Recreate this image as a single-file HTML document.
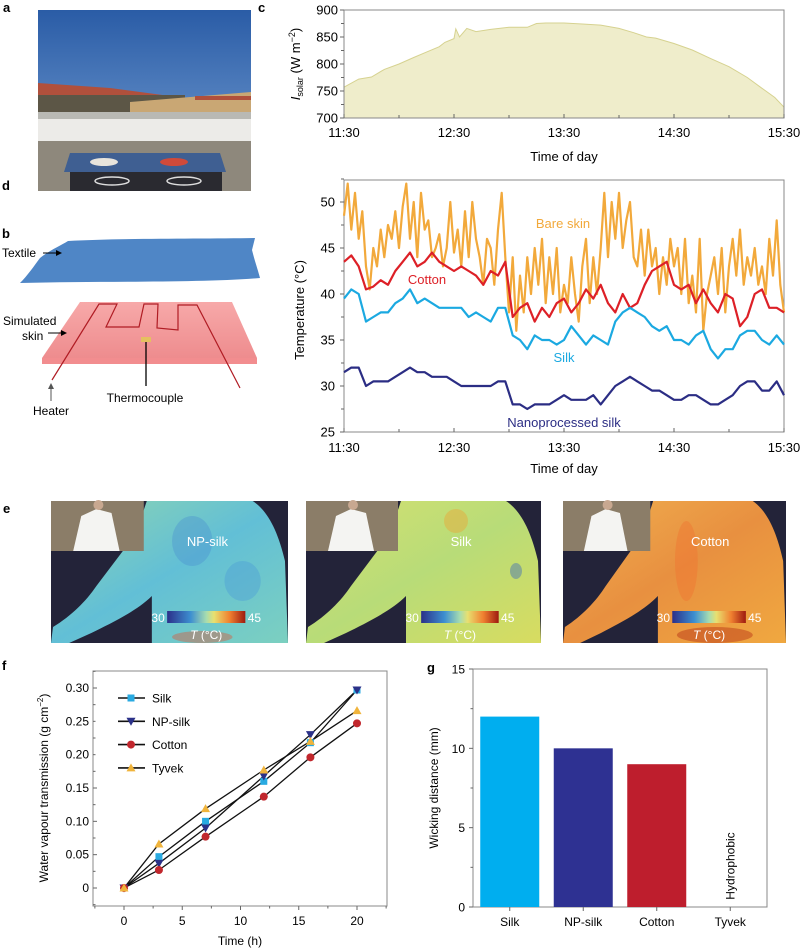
<!DOCTYPE html>
<html><head><meta charset="utf-8"><style>
html,body{margin:0;padding:0;background:#fff;}
svg{display:block;font-family:"Liberation Sans",Arial,sans-serif;}
</style></head><body>
<svg id="fig" width="800" height="949" viewBox="0 0 800 949" xmlns="http://www.w3.org/2000/svg">
<defs>
<linearGradient id="sky" x1="0" y1="0" x2="0" y2="1"><stop offset="0" stop-color="#2a5ca6"/><stop offset="1" stop-color="#7aa3d6"/></linearGradient>
<linearGradient id="skin" x1="0" y1="0" x2="0" y2="1"><stop offset="0" stop-color="#f7a9a9"/><stop offset="1" stop-color="#ee8c8e"/></linearGradient>
<linearGradient id="cbar" x1="0" y1="0" x2="1" y2="0"><stop offset="0" stop-color="#2b2f8a"/><stop offset="0.3" stop-color="#3d8fd0"/><stop offset="0.5" stop-color="#a6dcb0"/><stop offset="0.6" stop-color="#e8e070"/><stop offset="0.8" stop-color="#f08030"/><stop offset="1" stop-color="#9e1a10"/></linearGradient>
<linearGradient id="g1" x1="0" y1="0" x2="1" y2="1"><stop offset="0" stop-color="#8fd6b0"/><stop offset="0.5" stop-color="#62bfd6"/><stop offset="1" stop-color="#7cd0c0"/></linearGradient>
<linearGradient id="g2" x1="0" y1="0" x2="1" y2="1"><stop offset="0" stop-color="#d6e070"/><stop offset="0.5" stop-color="#b8dc78"/><stop offset="1" stop-color="#d8dc60"/></linearGradient>
<linearGradient id="g3" x1="0" y1="0" x2="1" y2="1"><stop offset="0" stop-color="#f0b050"/><stop offset="0.5" stop-color="#e89040"/><stop offset="1" stop-color="#f0a840"/></linearGradient>
</defs>
</svg>
<script>
// ---------- data ----------
const solarMinutes = [0,8,15,22,30,38,45,52,55,60,61,63,67,72,80,90,100,105,110,120,130,140,150,158,165,170,180,190,200,210,220,228,235,240];
const solarValues  = [757,772,776,790,800,812,822,832,840,847,865,850,866,860,864,868,868,875,876,876,874,872,866,858,850,848,838,826,810,795,775,755,738,720];

const bareMinutes = [0,2,4,6,8,10,12,14,16,18,20,22,24,26,28,30,32,34,36,38,40,42,44,46,48,50,52,54,56,58,60,62,64,66,68,70,72,74,76,78,80,82,84,86,88,90,92,94,96,98,100,102,104,106,108,110,112,114,116,118,120,122,124,126,128,130,132,134,136,138,140,142,144,146,148,150,152,154,156,158,160,162,164,166,168,170,172,174,176,178,180,182,184,186,188,190,192,194,196,198,200,202,204,206,208,210,212,214,216,218,220,222,224,226,228,230,232,234,236,238,240];
const bareValues = [48.5,52,47,51,46,49,43,40.5,45,43,47,44,47.5,46,49,45,49.5,52,46,50,44,51,47,48,44,45,46.5,43,45,50,44.5,47,43,49,44,50,46,44,41,46,45,41,47,51,44,38,44,36,42,38,44,40,45,41,46,39,44,40,45,38,41,39,44,40,37,43,46,39,44,40,45,51,44,50,46,51,45,48,50,44,43,47,42,47,43,45,40,44,41,46,43,45,40,46,39,42,38,46,36,40,42,44,40,45,38,43,46,42,47,41,44,42,45,41,43,40,46,42,48,41,38];

const tMinutes = [0,4,8,12,16,20,24,28,32,36,40,44,48,52,56,60,64,68,72,76,80,84,88,92,96,100,104,108,112,116,120,124,128,132,136,140,144,148,152,156,160,164,168,172,176,180,184,188,192,196,200,204,208,212,216,220,224,228,232,236,240];
const cottonValues = [43.5,44.2,43,40.5,40.8,41.5,41,42.5,43.5,44.5,43,43.5,44.5,43.5,43,42.5,43,42.5,42,41,42.5,42,43.5,37.5,38.5,39,37,38.5,37.5,39,39.5,38,39,40.5,39.5,41,39,38,40,38.5,39,41,42.5,43,43.5,41,40.5,41,39,40.5,39,38,40,39.5,36.5,37.5,40,40.5,38.5,38.5,38];
const silkValues   = [39.5,40.5,40,37,37.5,38,38,39,39.5,40.5,39,39.5,39,38.5,38.5,38.5,38.5,37.5,38,37.5,37,38.5,38.5,35.5,35,34,35.5,35,35,34.5,35,36.5,35.5,34.5,35.5,35,34.5,37,38,38.5,38,37.5,36.5,36,36.5,35,35,34.5,35.5,36,34,33,34,34,35.5,36,36,35,34.5,35.5,34.5];
const nanoValues   = [31.5,32,32,30,30.5,30.5,30.5,31,31.5,32,31.5,31.5,31,31,31,30.5,30,30,30,30,30,30.5,30.5,28,28,27.5,28,28,28,28.5,29,28.5,28.5,28.5,29,28,29,30,30.5,31,30.5,30,29.5,29.5,29,28.5,28.5,29,29,28.5,28,28,28.5,29,30,30.5,30.5,29.5,29.5,30.5,29];
const dTickLabels = ["11:30","12:30","13:30","14:30","15:30"];

const fTimes = [0,3,7,12,16,20];
const fSilk   = [0,0.047,0.100,0.160,0.218,0.297];
const fNP     = [0,0.037,0.090,0.168,0.230,0.297];
const fCotton = [0,0.027,0.077,0.137,0.196,0.247];
const fTyvek  = [0,0.066,0.119,0.177,0.220,0.266];
const fXTicks = [0,5,10,15,20];
const fYTicks = [0,0.05,0.10,0.15,0.20,0.25,0.30];
const fYLabels = ["0","0.05","0.10","0.15","0.20","0.25","0.30"];

const gCategories = ["Silk","NP-silk","Cotton","Tyvek"];
const gValues = [12,10,9,0];
const gYTicks = [0,5,10,15];

// ---------- helpers ----------
const NS="http://www.w3.org/2000/svg";
const svg=document.getElementById('fig');
function mk(tag,attrs,parent){const e=document.createElementNS(NS,tag);for(const k in attrs)e.setAttribute(k,attrs[k]);(parent||svg).appendChild(e);return e;}
function tx(x,y,s,attrs,parent){const e=mk('text',Object.assign({x:x,y:y},attrs||{}),parent);e.textContent=s;return e;}
function grp(name){const g=mk('g',{});


return g;}
function label(ch,x,y){const t=tx(x,y,ch,{'font-size':13,'font-weight':'bold'});

}

// ---------- panel a (photo) ----------
label('a',3,12);
const pa=grp('rooftop-photo');
mk('rect',{x:38,y:10,width:213,height:181,fill:'url(#sky)'},pa);
mk('path',{d:'M38,83 L110,88 L185,98 L185,112 L38,112 Z',fill:'#b0503c'},pa);
mk('rect',{x:38,y:95,width:147,height:17,fill:'#5c5646'},pa);
mk('path',{d:'M130,102 L251,92 L251,112 L130,112 Z',fill:'#c9a774'},pa);
mk('rect',{x:195,y:96,width:56,height:4,fill:'#b0503c'},pa);
mk('rect',{x:38,y:112,width:213,height:7,fill:'#b9b9b4'},pa);
mk('rect',{x:38,y:119,width:213,height:22,fill:'#ecebe8'},pa);
mk('rect',{x:38,y:141,width:213,height:50,fill:'#8e887c'},pa);
mk('path',{d:'M70,153 L220,153 L226,172 L64,172 Z',fill:'#3f5f92'},pa);
mk('rect',{x:70,y:172,width:152,height:19,fill:'#2a2a30'},pa);
mk('ellipse',{cx:104,cy:162,rx:14,ry:4,fill:'#e8e4dc'},pa);
mk('ellipse',{cx:174,cy:162,rx:14,ry:4,fill:'#d04a3a'},pa);
mk('ellipse',{cx:112,cy:181,rx:17,ry:4,fill:'none',stroke:'#ddd','stroke-width':1.5},pa);
mk('ellipse',{cx:184,cy:181,rx:17,ry:4,fill:'none',stroke:'#ddd','stroke-width':1.5},pa);

// ---------- panel b (schematic) ----------
label('b',2,238);
const pb=grp('setup-schematic');
const textile=mk('path',{d:'M68,241 C120,238 200,239 255,238 L252,250 C255,262 258,270 260,278 C200,283 100,281 20,283 C28,275 34,266 40,258 C50,250 60,246 68,241 Z',fill:'#4f86c6'},pb);


tx(2,257,'Textile',{'font-size':12},pb);
mk('line',{x1:43,y1:253,x2:60,y2:253,stroke:'#000','stroke-width':1},pb);
mk('path',{d:'M62,253 L56,250 L56,256 Z',fill:'#000'},pb);
const slab=mk('path',{d:'M80,302 L232,302 L257,358 L42,358 Z',fill:'url(#skin)'},pb);


mk('rect',{x:42,y:358,width:215,height:6,fill:'#f28d8f'},pb);
mk('path',{d:'M52,380 L99,304 L117,304 L106,327 L139,327 L144,304 L158,304 L157,328 L178,330 L178,305 L197,305 L240,388',fill:'none',stroke:'#b01c24','stroke-width':1.2},pb);
mk('rect',{x:141,y:337,width:10,height:5,fill:'#e5c060'},pb);
mk('line',{x1:146,y1:342,x2:146,y2:386,stroke:'#000','stroke-width':1.3},pb);
tx(3,325,'Simulated',{'font-size':12},pb);
tx(22,340,'skin',{'font-size':12},pb);
mk('line',{x1:48,y1:333,x2:64,y2:333,stroke:'#000','stroke-width':1},pb);
mk('path',{d:'M67,333 L61,330 L61,336 Z',fill:'#000'},pb);
tx(145,402,'Thermocouple',{'font-size':12,'text-anchor':'middle'},pb);
tx(33,415,'Heater',{'font-size':12},pb);
mk('line',{x1:51,y1:401,x2:51,y2:387,stroke:'#555','stroke-width':1},pb);
mk('path',{d:'M51,383 L48,389 L54,389 Z',fill:'#555'},pb);

// ---------- panel c ----------
label('c',258,12);
const pc=grp('solar-chart');
const xc=m=>344+m*440/240, yc=v=>118-(v-700)*108/200;
let dArea='M'+xc(solarMinutes[0])+','+yc(700);
let dLine='';
solarMinutes.forEach((m,i)=>{dArea+=' L'+xc(m).toFixed(1)+','+yc(solarValues[i]).toFixed(1);dLine+=(i?' L':'M')+xc(m).toFixed(1)+','+yc(solarValues[i]).toFixed(1);});
dArea+=' L'+xc(240)+','+yc(700)+' Z';
const area=mk('path',{d:dArea,fill:'#efedcb'},pc);


mk('path',{d:dLine,fill:'none',stroke:'#d6d290','stroke-width':1},pc);
mk('rect',{x:344,y:10,width:440,height:108,fill:'none',stroke:'#888','stroke-width':1},pc);
for(let v=700;v<=900;v+=25){const maj=v%50===0;mk('line',{x1:344-(maj?4:3),y1:yc(v),x2:344,y2:yc(v),stroke:'#666','stroke-width':1},pc);
if(maj){const t=tx(338,yc(v)+4.5,String(v),{'font-size':13,'text-anchor':'end'},pc);

}}
for(let m=0;m<=240;m+=30){mk('line',{x1:xc(m),y1:118,x2:xc(m),y2:118-(m%60===0?4:3),stroke:'#666','stroke-width':1},pc);}
dTickLabels.forEach((s,i)=>{const t=tx(xc(i*60),137,s,{'font-size':13,'text-anchor':'middle'},pc);

});
const cxt=tx(564,161,'Time of day',{'font-size':13,'text-anchor':'middle'},pc);


const cyt=mk('text',{x:0,y:0,'font-size':13,'text-anchor':'middle',transform:'translate(300,64) rotate(-90)'},pc);


cyt.innerHTML='<tspan font-style="italic">I</tspan><tspan font-size="9" dy="3">solar</tspan><tspan dy="-3"> (W m</tspan><tspan font-size="9" dy="-5">−2</tspan><tspan dy="5">)</tspan>';

// ---------- panel d ----------
label('d',2,190);
const pd=grp('temperature-chart');
const xd=m=>344+m*440/240, yd=v=>432-(v-25)*9.2;
mk('rect',{x:344,y:180,width:440,height:252,fill:'none',stroke:'#888','stroke-width':1},pd);
function series(ts,vs,color,name){let d='';ts.forEach((m,i)=>{d+=(i?' L':'M')+xd(m).toFixed(1)+','+yd(vs[i]).toFixed(1);});
const p=mk('path',{d:d,fill:'none',stroke:color,'stroke-width':2.2,'stroke-linejoin':'round'},pd);

}
series(bareMinutes,bareValues,'#f2a93b','bare-skin-line');
series(tMinutes,cottonValues,'#dd2027','cotton-line');
series(tMinutes,silkValues,'#1ba9e1','silk-line');
series(tMinutes,nanoValues,'#2b2d84','nanoprocessed-silk-line');
for(let v=25;v<=52.5;v+=2.5){const maj=v%5===0;mk('line',{x1:344-(maj?4:3),y1:yd(v),x2:344,y2:yd(v),stroke:'#666','stroke-width':1},pd);
if(maj){const t=tx(335,yd(v)+4.5,String(v),{'font-size':13,'text-anchor':'end'},pd);

}}
for(let m=0;m<=240;m+=30){mk('line',{x1:xd(m),y1:432,x2:xd(m),y2:432-(m%60===0?4:3),stroke:'#666','stroke-width':1},pd);}
dTickLabels.forEach((s,i)=>{const t=tx(xd(i*60),452,s,{'font-size':13,'text-anchor':'middle'},pd);

});
const dxt=tx(564,473,'Time of day',{'font-size':13,'text-anchor':'middle'},pd);


const dyt=tx(0,0,'Temperature (°C)',{'font-size':13,'text-anchor':'middle',transform:'translate(304,310) rotate(-90)'},pd);


[['Bare skin',563,228,'#f2a93b'],['Cotton',427,284,'#dd2027'],['Silk',564,362,'#1ba9e1'],['Nanoprocessed silk',564,427,'#2b2d84']].forEach(a=>{const t=tx(a[1],a[2],a[0],{'font-size':13,'text-anchor':'middle',fill:a[3]},pd);

});

// ---------- panel e ----------
label('e',3,513);
function thermal(x0,w,grad,name,lab,blobs){const g=grp(name);
mk('rect',{x:x0,y:501,width:w,height:142,fill:'#232339'},g);
const s=w/235;
mk('path',{transform:'translate('+x0+',501) scale('+s+',1)',d:'M95,0 L200,0 C215,10 225,30 232,60 L235,142 L100,142 L100,95 C85,110 60,122 40,132 L18,142 L0,142 L2,126 C20,115 35,100 45,85 L75,45 C85,30 90,15 95,0 Z',fill:'url(#'+grad+')'},g);
blobs.forEach(b=>mk('ellipse',{cx:x0+b[0]*s,cy:501+b[1],rx:b[2]*s,ry:b[3],fill:b[4],opacity:0.4},g));
mk('rect',{x:x0,y:501,width:92*s,height:50,fill:'#8b7d68'},g);
mk('path',{transform:'translate('+x0+',501) scale('+s+',1)',d:'M22,50 L30,15 L45,8 L60,12 L68,50 Z',fill:'#f4f4f2'},g);
mk('circle',{cx:x0+47*s,cy:505,r:5,fill:'#c8a890'},g);
const t=tx(x0+0.66*w,546,lab,{'font-size':13,'text-anchor':'middle',fill:'#fff'},g);


const cb=mk('rect',{x:x0+0.49*w,y:611,width:0.33*w,height:12,fill:'url(#cbar)'},g);


tx(x0+0.48*w,622,'30',{'font-size':12,'text-anchor':'end',fill:'#fff'},g);
tx(x0+0.83*w,622,'45',{'font-size':12,fill:'#fff'},g);
const tt=mk('text',{x:x0+0.655*w,y:639,'font-size':12,'text-anchor':'middle',fill:'#fff'},g);
tt.innerHTML='<tspan font-style="italic">T</tspan> (°C)';}
thermal(51,237,'g1','thermal-np-silk','NP-silk',[[140,40,20,25,'#4a90d0'],[190,80,18,20,'#4a9ad8'],[150,136,30,6,'#e05030']]);
thermal(306,235,'g2','thermal-silk','Silk',[[150,20,12,12,'#f0a030'],[210,70,6,8,'#3060c0']]);
thermal(563,223,'g3','thermal-cotton','Cotton',[[160,134,40,8,'#b02010'],[130,60,12,40,'#f07030']]);

// ---------- panel f ----------
label('f',2,670);
const pf=grp('vapour-transmission-chart');
const xf=t=>124+t*233/20, yf=v=>888-v*200/0.30;
mk('rect',{x:93,y:671,width:294,height:235,fill:'none',stroke:'#888','stroke-width':1},pf);
for(let t=-2.5;t<=22.5;t+=2.5){mk('line',{x1:xf(t),y1:906,x2:xf(t),y2:906+(t%5===0?4:2.5),stroke:'#666','stroke-width':1},pf);}
fXTicks.forEach(t=>{const e=tx(xf(t),925,String(t),{'font-size':12,'text-anchor':'middle'},pf);

});
for(let v=-0.025;v<=0.3251;v+=0.025){mk('line',{x1:93,y1:yf(v),x2:93+(Math.abs((v*40)%2)<0.01?4:2.5),y2:yf(v),stroke:'#666','stroke-width':1},pf);}
fYTicks.forEach((v,i)=>{const e=tx(89,yf(v)+4,fYLabels[i],{'font-size':12,'text-anchor':'end'},pf);

});
const fxt=tx(240,945,'Time (h)',{'font-size':12,'text-anchor':'middle'},pf);


const fyt=mk('text',{x:0,y:0,'font-size':12,'text-anchor':'middle',transform:'translate(48,788) rotate(-90)'},pf);


fyt.innerHTML='Water vapour transmission (g cm<tspan font-size="8" dy="-5">−2</tspan><tspan dy="5">)</tspan>';
function marker(kind,x,y,color,parent){
if(kind==='sq')return mk('rect',{x:x-3.5,y:y-3.5,width:7,height:7,fill:color},parent);
if(kind==='dn')return mk('path',{d:'M'+(x-4.5)+','+(y-3.5)+' L'+(x+4.5)+','+(y-3.5)+' L'+x+','+(y+4.5)+' Z',fill:color},parent);
if(kind==='ci')return mk('circle',{cx:x,cy:y,r:4,fill:color},parent);
return mk('path',{d:'M'+(x-4.5)+','+(y+3.5)+' L'+(x+4.5)+','+(y+3.5)+' L'+x+','+(y-4.5)+' Z',fill:color},parent);}
const fSeries=[['Silk',fSilk,'sq','#29aae1'],['NP-silk',fNP,'dn','#2b3188'],['Cotton',fCotton,'ci','#c1272d'],['Tyvek',fTyvek,'up','#f0b43c']];
fSeries.forEach(s=>{let d='';fTimes.forEach((t,i)=>{d+=(i?' L':'M')+xf(t).toFixed(1)+','+yf(s[1][i]).toFixed(1);});
const p=mk('path',{d:d,fill:'none',stroke:'#111','stroke-width':1.3},pf);

});
fSeries.forEach(s=>{fTimes.forEach((t,i)=>{const m=marker(s[2],xf(t),yf(s[1][i]),s[3],pf);

});});
fSeries.forEach((s,i)=>{const y=698+i*23.3;const lg=mk('g',{},pf);


mk('line',{x1:118,y1:y,x2:145,y2:y,stroke:'#111','stroke-width':1.6},lg);marker(s[2],131,y,s[3],lg);tx(152,y+4.5,s[0],{'font-size':12},lg);});

// ---------- panel g ----------
const gl=tx(427,672,'g',{'font-size':13,'font-weight':'bold'});


const pg=grp('wicking-chart');
const yg=v=>907-v*238/15, band=294/gCategories.length, xg=i=>473+band*(i+0.5);
mk('rect',{x:473,y:669,width:294,height:238,fill:'none',stroke:'#888','stroke-width':1},pg);
const gColors=['#00aeef','#2e3192','#be1e2d','#000'];
gValues.forEach((v,i)=>{if(v<=0)return;const b=mk('rect',{x:xg(i)-29.5,y:yg(v),width:59,height:yg(0)-yg(v),fill:gColors[i]},pg);

});
for(let v=0;v<=15;v+=2.5){mk('line',{x1:473-(v%5===0?4:2.5),y1:yg(v),x2:473,y2:yg(v),stroke:'#666','stroke-width':1},pg);}
gYTicks.forEach(v=>{const e=tx(465,yg(v)+4.5,String(v),{'font-size':12,'text-anchor':'end'},pg);

});
gCategories.forEach((c,i)=>{mk('line',{x1:xg(i),y1:907,x2:xg(i),y2:911,stroke:'#666','stroke-width':1},pg);
const e=tx(xg(i),926,c,{'font-size':12,'text-anchor':'middle'},pg);

});
const gyt=tx(0,0,'Wicking distance (mm)',{'font-size':12,'text-anchor':'middle',transform:'translate(438,788) rotate(-90)'},pg);


const hyd=tx(0,0,'Hydrophobic',{'font-size':12,'text-anchor':'middle',transform:'translate('+(xg(3)+4)+',866) rotate(-90)'},pg);


</script>
</body></html>
